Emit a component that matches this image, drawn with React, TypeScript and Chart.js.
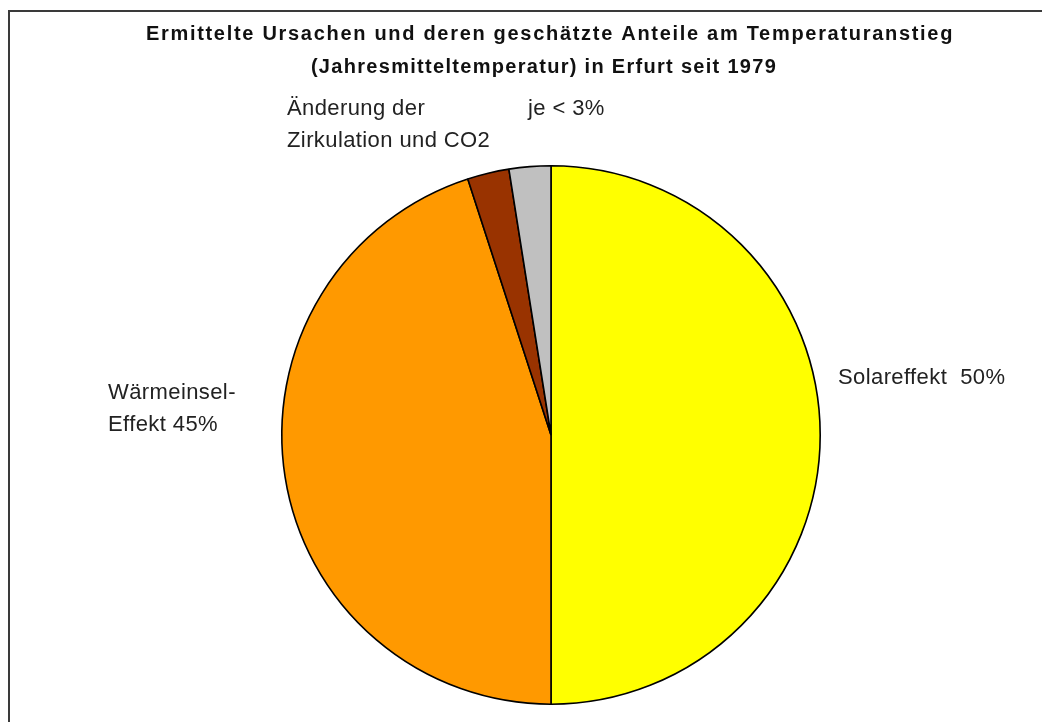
import React, { useEffect, useRef } from "react";
import { Chart, registerables } from "chart.js";

Chart.register(...registerables);

const titleLines = [
  "Ermittelte Ursachen und deren geschätzte Anteile am Temperaturanstieg",
  "(Jahresmitteltemperatur) in Erfurt seit 1979",
];
const categories = ["Solareffekt", "Wärmeinsel-Effekt", "Änderung der Zirkulation", "CO2"];
const shares = [50, 45, 2.5, 2.5];
const sliceColors = ["#FFFF00", "#FF9900", "#993300", "#C0C0C0"];
const solarLabel = ["Solareffekt  50%"];
const heatIslandLabel = ["Wärmeinsel-", "Effekt 45%"];
const smallCausesLabel = ["Änderung der", "Zirkulation und CO2"];
const smallShareLabel = ["je < 3%"];

const textPlugin = {
  id: "customText",
  beforeDraw(chart: any) {
    const ctx = chart.ctx as CanvasRenderingContext2D;
    ctx.save();
    ctx.fillStyle = "#ffffff";
    ctx.fillRect(0, 0, chart.width, chart.height);
    ctx.strokeStyle = "#3a3a3a";
    ctx.lineWidth = 2;
    ctx.strokeRect(9, 11, 1200, 1000);
    ctx.restore();
  },
  afterDraw(chart: any) {
    const ctx = chart.ctx as CanvasRenderingContext2D;
    ctx.save();
    ctx.fillStyle = "#111111";
    ctx.textBaseline = "alphabetic";
    // title
    ctx.font = "bold 20px 'Liberation Sans', Arial, sans-serif";
    ctx.textAlign = "center";
    (ctx as any).letterSpacing = "1.7px";
    ctx.fillText(titleLines[0], 550, 40);
    (ctx as any).letterSpacing = "1.3px";
    ctx.fillText(titleLines[1], 544, 73);
    // labels
    ctx.fillStyle = "#222222";
    ctx.font = "22px 'Liberation Sans', Arial, sans-serif";
    (ctx as any).letterSpacing = "0.4px";
    ctx.textAlign = "left";
    ctx.fillText(smallCausesLabel[0], 287, 115);
    ctx.fillText(smallCausesLabel[1], 287, 147);
    ctx.fillText(smallShareLabel[0], 528, 115);
    ctx.fillText(heatIslandLabel[0], 108, 399);
    ctx.fillText(heatIslandLabel[1], 108, 431);
    ctx.fillText(solarLabel[0], 838, 384);
    ctx.restore();
  },
};

export default function App() {
  const ref = useRef<HTMLCanvasElement>(null);
  useEffect(() => {
    if (!ref.current) return;
    const chart = new Chart(ref.current, {
      type: "pie",
      data: {
        labels: categories,
        datasets: [
          {
            data: shares,
            backgroundColor: sliceColors,
            borderColor: "#000000",
            borderWidth: 1.6,
          },
        ],
      },
      options: {
        responsive: false,
        animation: false,
        events: [],
        layout: { padding: { left: 281, right: 221, top: 165, bottom: 17 } },
        plugins: {
          legend: { display: false },
          title: { display: false },
          tooltip: { enabled: false },
        },
      },
      plugins: [textPlugin],
    });
    return () => chart.destroy();
  }, []);
  return (
    <div style={{ position: "absolute", left: 0, top: 0, width: 1042, height: 722, background: "#fff" }}>
      <canvas ref={ref} width={1042} height={722} style={{ display: "block" }} />
    </div>
  );
}
